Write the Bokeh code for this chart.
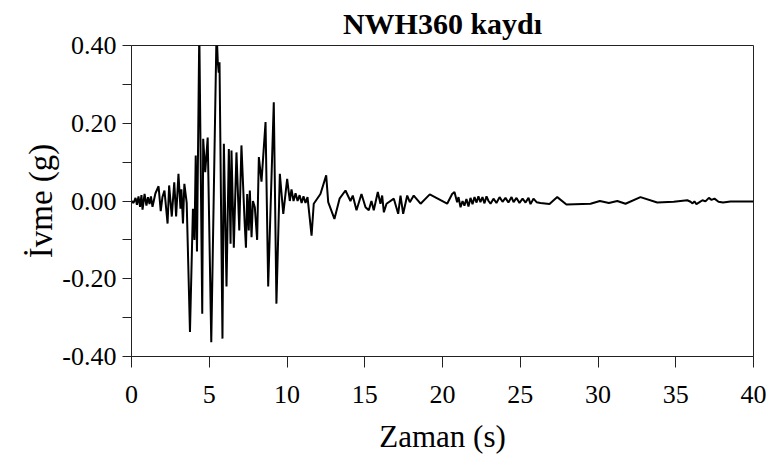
from bokeh.plotting import figure
from bokeh.models import FixedTicker, Range1d
from bokeh.embed import file_html
from bokeh.resources import INLINE

# Acceleration record NWH360: time (s) and acceleration (g)
time_s = [
    0.00, 0.13, 0.26, 0.35, 0.45, 0.55, 0.64, 0.71, 0.84, 0.96, 1.06, 1.16, 1.25, 1.35,
    1.54, 1.74, 1.88, 1.99, 2.12, 2.32, 2.42, 2.59, 2.75, 2.87, 3.02, 3.15, 3.21, 3.31,
    3.40, 3.55, 3.76, 3.95, 4.05, 4.13, 4.21, 4.36, 4.55, 4.61, 4.74, 4.90, 5.13, 5.47,
    5.55, 5.61, 5.66, 5.85, 5.94, 6.11, 6.26, 6.37, 6.43, 6.58, 6.75, 6.93, 7.07, 7.27,
    7.36, 7.44, 7.54, 7.61, 7.72, 7.81, 7.93, 8.08, 8.19, 8.36, 8.62, 8.79, 9.15, 9.32,
    9.54, 9.76, 10.01, 10.18, 10.29, 10.42, 10.55, 10.68, 10.81, 10.94, 11.06, 11.19,
    11.32, 11.58, 11.72, 12.15, 12.52, 12.65, 13.05, 13.38, 13.76, 14.08, 14.23, 14.47,
    14.79, 15.05, 15.26, 15.43, 15.58, 15.84, 16.01, 16.12, 16.23, 16.40, 16.87, 17.15,
    17.30, 17.47, 17.73, 17.90, 18.15, 18.59, 19.18, 20.30, 20.62, 20.77, 20.94, 21.03,
    21.16, 21.29, 21.41, 21.54, 21.67, 21.80, 21.93, 22.06, 22.19, 22.31, 22.44, 22.57,
    22.70, 22.83, 22.96, 23.09, 23.28, 23.47, 23.67, 23.86, 24.05, 24.24, 24.44, 24.57,
    24.76, 24.95, 25.15, 25.34, 25.53, 25.66, 25.85, 26.05, 26.30, 26.88, 27.38, 27.97,
    29.52, 30.12, 30.70, 31.24, 31.77, 32.73, 33.81, 34.87, 35.74, 35.95, 36.08, 36.20,
    36.33, 36.53, 36.72, 36.91, 37.13, 37.30, 37.49, 37.75, 38.04, 38.52, 40.00,
]
accel_g = [
    0.000, -0.005, 0.008, -0.010, 0.012, -0.015, 0.015, -0.022, 0.018, -0.012, 0.010, -0.008, 0.012, -0.015,
    0.020, 0.038, -0.026, 0.010, 0.027, -0.058, 0.040, -0.040, 0.048, -0.040, 0.070, -0.020, 0.030, -0.058,
    0.044, -0.005, -0.337, -0.020, -0.100, 0.117, -0.130, 0.440, -0.290, 0.160, 0.074, 0.163, -0.363, 0.440,
    0.357, 0.330, 0.357, -0.354, 0.147, -0.220, 0.134, -0.110, 0.130, -0.120, 0.125, -0.076, 0.143, -0.050,
    -0.120, 0.018, -0.076, 0.027, -0.093, 0.000, -0.016, -0.100, 0.113, 0.050, 0.203, -0.220, 0.254, -0.264,
    0.070, -0.033, 0.057, 0.000, 0.030, 0.000, 0.020, 0.000, 0.015, -0.005, 0.012, -0.005,
    0.010, -0.089, -0.007, 0.018, 0.066, -0.003, -0.046, 0.006, 0.027, 0.000, 0.014, -0.024,
    0.018, -0.016, -0.024, 0.000, -0.024, 0.023, -0.007, 0.014, -0.029, -0.007, 0.006, -0.033,
    0.014, -0.033, 0.014, -0.003, 0.014, -0.007, 0.017, -0.007, 0.018, 0.023, -0.003, 0.010,
    -0.016, 0.000, -0.012, 0.005, -0.014, 0.008, -0.008, 0.010, -0.004, 0.012, -0.003, 0.010,
    -0.006, 0.012, 0.000, -0.007, 0.006, -0.005, 0.010, -0.002, 0.008, -0.004, 0.010, -0.003,
    0.008, -0.005, 0.006, -0.004, 0.008, -0.008, 0.006, -0.003, -0.005, -0.008, 0.010, -0.009,
    -0.007, 0.000, -0.005, 0.000, -0.007, 0.010, -0.004, -0.002, 0.002, -0.002, -0.006, -0.001,
    -0.008, -0.003, 0.002, -0.001, 0.008, 0.003, 0.006, -0.002, -0.004, -0.001, -0.001,
]

x_ticks = [0, 5, 10, 15, 20, 25, 30, 35, 40]
y_ticks = [-0.4, -0.2, 0.0, 0.2, 0.4]
y_minor = [-0.3, -0.1, 0.1, 0.3]
y_labels = {-0.4: "-0.40", -0.2: "-0.20", 0.0: "0.00", 0.2: "0.20", 0.4: "0.40"}

FONT = "Liberation Serif"

p = figure(
    width=767, height=464,
    x_range=Range1d(0, 40), y_range=Range1d(-0.4, 0.4),
    output_backend="svg", toolbar_location=None,
    min_border_left=131, min_border_right=14, min_border_top=45, min_border_bottom=108,
)

p.line(time_s, accel_g, line_color="black", line_width=2)

p.title.text = "NWH360 kaydı"
p.title.align = "center"
p.title.vertical_align = "top"
p.title.text_font = FONT
p.title.text_font_size = "30px"
p.title.text_font_style = "bold"
p.title.text_color = "black"
p.title.standoff = 8

p.xgrid.visible = False
p.ygrid.visible = False
p.outline_line_color = "#222222"
p.outline_line_width = 1
p.background_fill_color = "white"
p.border_fill_color = "white"

xa = p.xaxis[0]
xa.ticker = FixedTicker(ticks=x_ticks)
xa.axis_label = "Zaman (s)"
xa.major_tick_in = 0
xa.major_tick_out = 11
xa.minor_tick_out = 0
xa.minor_tick_in = 0
xa.major_label_standoff = 18
xa.axis_label_standoff = 13
xa.axis_label_text_font_size = "31px"

ya = p.yaxis[0]
ya.ticker = FixedTicker(ticks=y_ticks, minor_ticks=y_minor)
ya.major_label_overrides = y_labels
ya.axis_label = "İvme (g)"
ya.major_tick_in = 0
ya.major_tick_out = 9
ya.minor_tick_in = 0
ya.minor_tick_out = 9
ya.major_label_standoff = 6
ya.axis_label_standoff = 0
ya.axis_label_text_font_size = "33px"

for ax in (xa, ya):
    ax.axis_line_color = "#222222"
    ax.major_tick_line_color = "#222222"
    ax.minor_tick_line_color = "#222222"
    ax.major_label_text_font = FONT
    ax.major_label_text_font_size = "26px"
    ax.major_label_text_color = "black"
    ax.axis_label_text_font = FONT
    ax.axis_label_text_font_style = "normal"
    ax.axis_label_text_color = "black"

open("out.html", "w").write(file_html(p, INLINE))
